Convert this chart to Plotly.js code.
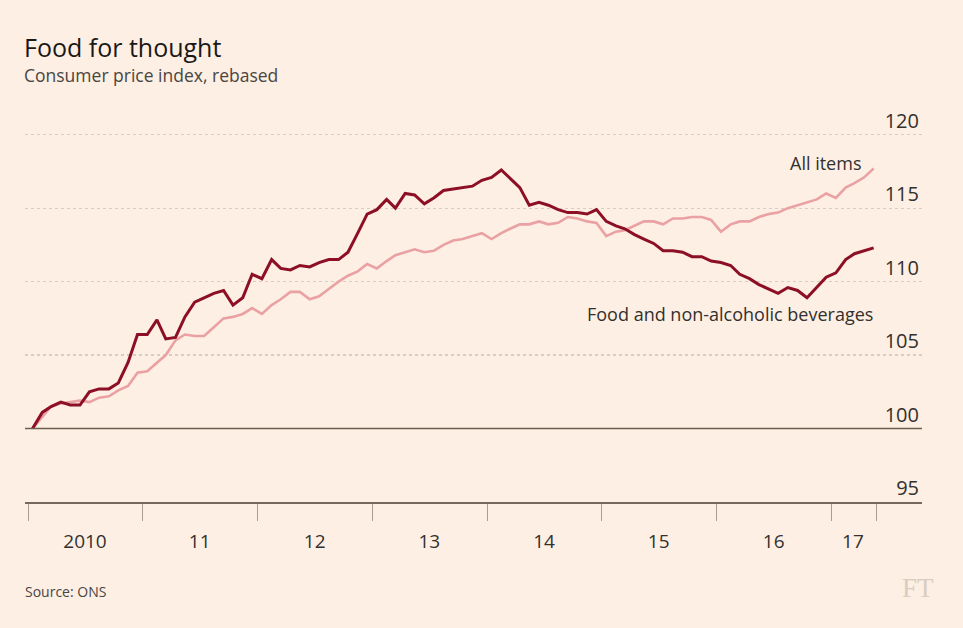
<!DOCTYPE html>
<html>
<head>
<meta charset="utf-8">
<script src="https://cdn.plot.ly/plotly-3.0.1.min.js"></script>
<style>
  html, body { margin: 0; padding: 0; background: #fdefe3; }
  #chart { width: 963px; height: 628px; }
</style>
</head>
<body>
<div id="chart"></div>
<script>
// Monthly index, Jan 2010 = 100 (Jan 2010 .. May 2017)
const startYear = 2010;
const food = [
  100.0, 101.1, 101.5, 101.8, 101.6, 101.6, 102.5, 102.7, 102.7, 103.1, 104.5, 106.4,
  106.4, 107.4, 106.1, 106.2, 107.6, 108.6, 108.9, 109.2, 109.4, 108.4, 108.9, 110.5,
  110.2, 111.5, 110.9, 110.8, 111.1, 111.0, 111.3, 111.5, 111.5, 112.0, 113.3, 114.6,
  114.9, 115.6, 115.0, 116.0, 115.9, 115.3, 115.7, 116.2, 116.3, 116.4, 116.5, 116.9,
  117.1, 117.6, 117.0, 116.4, 115.2, 115.4, 115.2, 114.9, 114.7, 114.7, 114.6, 114.9,
  114.1, 113.8, 113.6, 113.2, 112.9, 112.6, 112.1, 112.1, 112.0, 111.7, 111.7, 111.4,
  111.3, 111.1, 110.5, 110.2, 109.8, 109.5, 109.2, 109.6, 109.4, 108.9, 109.6, 110.3,
  110.6, 111.5, 111.9, 112.1, 112.3
];
const allItems = [
  100.0, 100.8, 101.5, 101.7, 101.8, 101.9, 101.8, 102.1, 102.2, 102.6, 102.9, 103.8,
  103.9, 104.5, 105.0, 106.0, 106.4, 106.3, 106.3, 106.9, 107.5, 107.6, 107.8, 108.2,
  107.8, 108.4, 108.8, 109.3, 109.3, 108.8, 109.0, 109.5, 110.0, 110.4, 110.7, 111.2,
  110.9, 111.4, 111.8, 112.0, 112.2, 112.0, 112.1, 112.5, 112.8, 112.9, 113.1, 113.3,
  112.9, 113.3, 113.6, 113.9, 113.9, 114.1, 113.9, 114.0, 114.4, 114.3, 114.1, 114.0,
  113.1, 113.4, 113.5, 113.8, 114.1, 114.1, 113.9, 114.3, 114.3, 114.4, 114.4, 114.2,
  113.4, 113.9, 114.1, 114.1, 114.4, 114.6, 114.7, 115.0, 115.2, 115.4, 115.6, 116.0,
  115.7, 116.4, 116.7, 117.1, 117.7
];
const yearTickDates = ['2010-01-01','2011-01-01','2012-01-01','2013-01-01','2014-01-01',
  '2015-01-01','2016-01-01','2017-01-01','2017-05-25'];
const yearLabelDates = ['2010-07-01','2011-07-01','2012-07-01','2013-07-01','2014-07-01',
  '2015-07-01','2016-07-01','2017-03-10'];
const yearLabels = ['2010','11','12','13','14','15','16','17'];
const yTicks = [95, 100, 105, 110, 115, 120];

// month axis (mid-month dates)
const dates = food.map((_, i) => {
  const y = startYear + Math.floor(i / 12);
  const m = (i % 12) + 1;
  return y + '-' + String(m).padStart(2, '0') + '-15';
});

const xRange = ['2009-12-22', '2017-10-16'];
const txt = '#33302e';
const fontFam = 'Open Sans, sans-serif';

const traces = [
  { x: dates, y: allItems, type: 'scatter', mode: 'lines', name: 'All items',
    line: { color: '#eaa1a3', width: 2.6 }, hoverinfo: 'skip' },
  { x: dates, y: food, type: 'scatter', mode: 'lines', name: 'Food and non-alcoholic beverages',
    line: { color: '#8c0f25', width: 3 }, hoverinfo: 'skip' }
];

const plotTop = 98, plotH = 404;

const layout = {
  width: 963, height: 628,
  paper_bgcolor: '#fdefe3', plot_bgcolor: '#fdefe3',
  margin: { l: 25, r: 41, t: plotTop, b: 628 - plotTop - plotH },
  showlegend: false,
  font: { family: fontFam, color: txt },
  title: { text: 'Food for thought', x: 24 / 963, xanchor: 'left',
    y: 1 - 48 / 628, yanchor: 'middle', font: { size: 25, color: '#1a1817', family: fontFam } },
  xaxis: {
    type: 'date', range: xRange, tickmode: 'array',
    tickvals: yearLabelDates, ticktext: yearLabels,
    ticks: 'outside', ticklen: 22, tickcolor: 'rgba(0,0,0,0)',
    tickfont: { size: 19, color: txt, family: fontFam },
    minor: { tickmode: 'array', tickvals: yearTickDates, ticks: 'outside',
      ticklen: 17, tickwidth: 1, tickcolor: '#a99c90', showgrid: false },
    showgrid: false, zeroline: false, showline: true, linecolor: '#76685b', linewidth: 1.5,
    fixedrange: true
  },
  yaxis: {
    range: [95, 122.5], side: 'right', tickmode: 'array', tickvals: yTicks,
    ticklabelposition: 'inside top', ticks: '',
    tickfont: { size: 20, color: txt, family: fontFam },
    showgrid: true, gridcolor: '#d8cdc2', griddash: 'dot', gridwidth: 1.2,
    zeroline: false, showline: false, fixedrange: true
  },
  shapes: [
    { type: 'line', xref: 'paper', x0: 0, x1: 1, yref: 'y', y0: 100, y1: 100,
      line: { color: '#6e5f51', width: 1.6 }, layer: 'above' }
  ],
  annotations: [
    { text: 'Consumer price index, rebased', xref: 'paper', yref: 'paper',
      x: -3 / 897, y: (plotTop + plotH - 75) / plotH, xanchor: 'left', yanchor: 'middle', showarrow: false,
      font: { size: 17.5, color: '#4a4542', family: fontFam } },
    { text: 'All items', xref: 'x', yref: 'y', x: '2017-04-12', y: 118.1,
      xanchor: 'right', yanchor: 'middle', showarrow: false,
      font: { size: 18, color: txt, family: fontFam } },
    { text: 'Food and non-alcoholic beverages', xref: 'x', yref: 'y', x: '2017-05-20', y: 107.8,
      xanchor: 'right', yanchor: 'middle', showarrow: false,
      font: { size: 18, color: txt, family: fontFam } },
    { text: 'Source: ONS', xref: 'paper', yref: 'paper',
      x: -2 / 897, y: (plotTop + plotH - 591) / plotH, xanchor: 'left', yanchor: 'middle', showarrow: false,
      font: { size: 14, color: '#4a4542', family: fontFam } },
    { text: 'FT', xref: 'paper', yref: 'paper',
      x: (936 - 25) / 897, y: (plotTop + plotH - 588) / plotH, xanchor: 'right', yanchor: 'middle', showarrow: false,
      font: { size: 27, color: '#d9ccc0', family: 'Liberation Serif, DejaVu Serif, serif' } }
  ]
};

Plotly.newPlot('chart', traces, layout, { staticPlot: true, displayModeBar: false });
</script>
</body>
</html>
